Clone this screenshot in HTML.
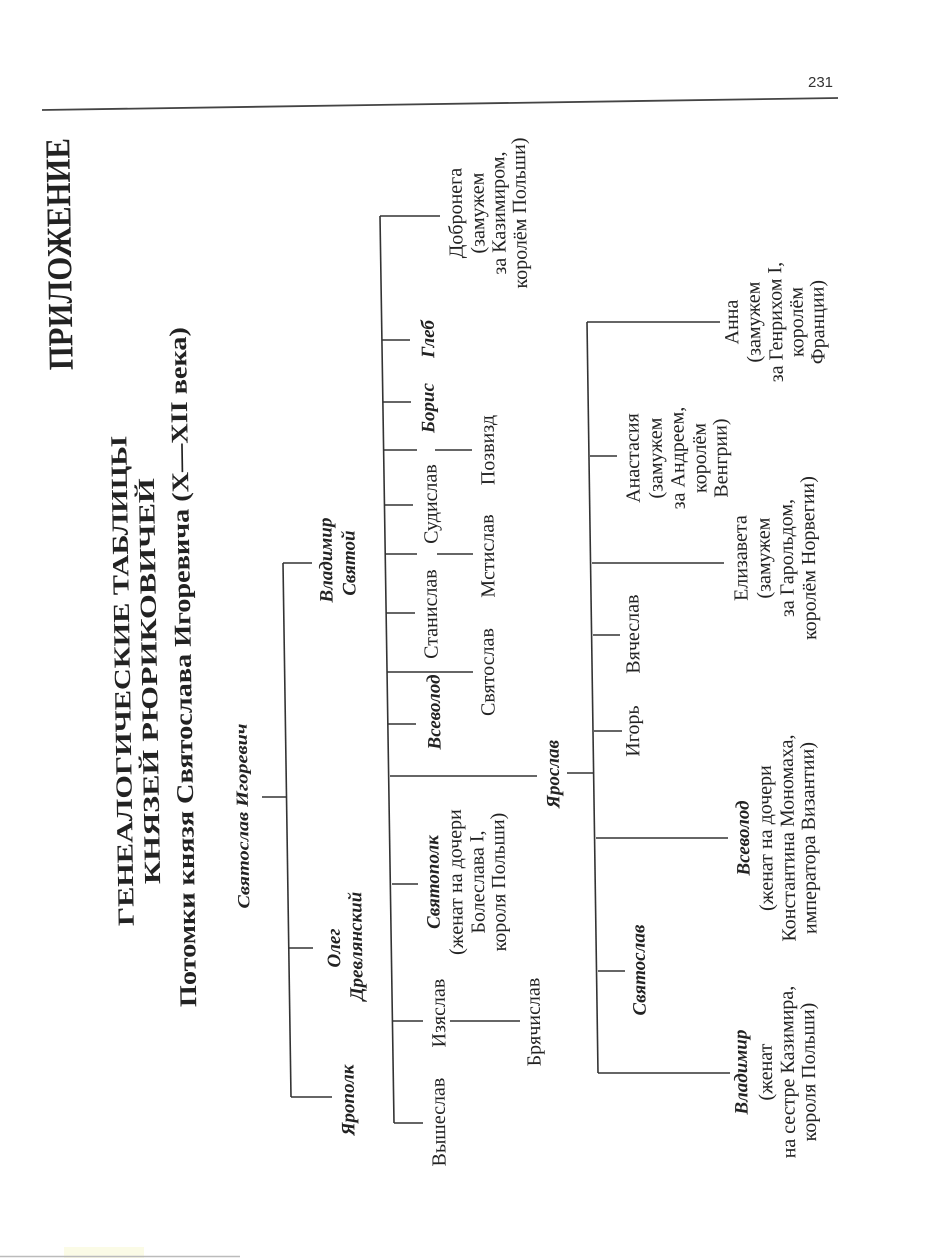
<!DOCTYPE html>
<html><head><meta charset="utf-8"><style>
html,body{margin:0;padding:0;background:#fff;}
svg{display:block;}
text{font-family:"Liberation Serif","Noto Serif CJK SC",serif;fill:#222;}
.r{font-size:20px;}
.b{font-size:19px;font-weight:bold;font-style:italic;}
</style></head><body>
<svg width="939" height="1258" viewBox="0 0 939 1258" xmlns="http://www.w3.org/2000/svg">
<rect width="939" height="1258" fill="#fff"/>
<rect x="64" y="1247" width="80" height="11" fill="#fbfbe6"/>
<line x1="0" y1="1256.5" x2="240" y2="1256.5" stroke="#bbb" stroke-width="1.5"/>
<line x1="42" y1="110" x2="838" y2="98" stroke="#444" stroke-width="1.8"/>
<text x="808" y="87" style="font-family:'Liberation Sans',sans-serif;font-size:15px;fill:#333">231</text>

<g stroke="#333" stroke-width="1.6" fill="none">
<line x1="262" y1="797" x2="287" y2="797"/>
<line x1="283" y1="563" x2="291" y2="1097"/>
<line x1="283" y1="563" x2="312" y2="563"/>
<line x1="289" y1="948" x2="313" y2="948"/>
<line x1="291" y1="1097" x2="332" y2="1097"/>
<line x1="380" y1="216" x2="394" y2="1123"/>
<line x1="380" y1="216" x2="440" y2="216"/>
<line x1="382" y1="340" x2="410" y2="340"/>
<line x1="383" y1="402" x2="411" y2="402"/>
<line x1="384" y1="450" x2="417" y2="450"/>
<line x1="435" y1="450" x2="472" y2="450"/>
<line x1="384" y1="505" x2="413" y2="505"/>
<line x1="385" y1="554" x2="417" y2="554"/>
<line x1="437" y1="554" x2="473" y2="554"/>
<line x1="386" y1="613" x2="415" y2="613"/>
<line x1="387" y1="672" x2="473" y2="672"/>
<line x1="388" y1="724" x2="416" y2="724"/>
<line x1="390" y1="776" x2="537" y2="776"/>
<line x1="392" y1="884" x2="418" y2="884"/>
<line x1="393" y1="1021" x2="423" y2="1021"/>
<line x1="450" y1="1021" x2="520" y2="1021"/>
<line x1="394" y1="1123" x2="423" y2="1123"/>
<line x1="567" y1="773" x2="593" y2="773"/>
<line x1="587" y1="322" x2="598" y2="1073"/>
<line x1="587" y1="322" x2="720" y2="322"/>
<line x1="590" y1="456" x2="617" y2="456"/>
<line x1="592" y1="563" x2="724" y2="563"/>
<line x1="593" y1="635" x2="620" y2="635"/>
<line x1="594" y1="731" x2="622" y2="731"/>
<line x1="596" y1="838" x2="728" y2="838"/>
<line x1="598" y1="971" x2="625" y2="971"/>
<line x1="598" y1="1073" x2="730" y2="1073"/>
</g>

<g text-anchor="middle">
<text transform="translate(71,254) rotate(-90.88)" style="font-size:35px;font-weight:bold" textLength="232" lengthAdjust="spacingAndGlyphs">ПРИЛОЖЕНИЕ</text>
<text transform="translate(130,681) rotate(-90.88)" style="font-size:23px;font-weight:bold" textLength="490" lengthAdjust="spacingAndGlyphs">ГЕНЕАЛОГИЧЕСКИЕ ТАБЛИЦЫ</text>
<text transform="translate(157,681) rotate(-90.88)" style="font-size:23px;font-weight:bold" textLength="406" lengthAdjust="spacingAndGlyphs">КНЯЗЕЙ РЮРИКОВИЧЕЙ</text>
<text transform="translate(191,667) rotate(-90.88)" style="font-size:24px;font-weight:bold" textLength="680" lengthAdjust="spacingAndGlyphs">Потомки князя Святослава Игоревича (X—XII века)</text>
<text transform="translate(248,816) rotate(-90.88)" style="font-size:17px;font-weight:bold;font-style:italic" textLength="185" lengthAdjust="spacingAndGlyphs">Святослав Игоревич</text>

<text class="b" transform="translate(354,1100) rotate(-90.88)">Ярополк</text>
<text class="b" transform="translate(340,948) rotate(-90.88)">Олег</text>
<text class="b" transform="translate(362,946) rotate(-90.88)">Древлянский</text>
<text class="b" transform="translate(332,560) rotate(-90.88)">Владимир</text>
<text class="b" transform="translate(355,563) rotate(-90.88)">Святой</text>

<text class="r" transform="translate(445,1122) rotate(-90.88)">Вышеслав</text>
<text class="r" transform="translate(445,1013) rotate(-90.88)">Изяслав</text>
<text class="r" transform="translate(540,1022) rotate(-90.88)">Брячислав</text>
<text class="b" transform="translate(439,882) rotate(-90.88)">Святополк</text>
<text class="r" transform="translate(462,882) rotate(-90.88)">(женат на дочери</text>
<text class="r" transform="translate(484,882) rotate(-90.88)">Болеслава I,</text>
<text class="r" transform="translate(505,882) rotate(-90.88)">короля Польши)</text>
<text class="b" transform="translate(440,712) rotate(-90.88)">Всеволод</text>
<text class="b" transform="translate(559,774) rotate(-90.88)">Ярослав</text>
<text class="r" transform="translate(437,614) rotate(-90.88)">Станислав</text>
<text class="r" transform="translate(494,672) rotate(-90.88)">Святослав</text>
<text class="r" transform="translate(437,504) rotate(-90.88)">Судислав</text>
<text class="r" transform="translate(494,556) rotate(-90.88)">Мстислав</text>
<text class="r" transform="translate(494,450) rotate(-90.88)">Позвизд</text>
<text class="b" transform="translate(434,408) rotate(-90.88)">Борис</text>
<text class="b" transform="translate(434,339) rotate(-90.88)">Глеб</text>
<text class="r" transform="translate(462,213) rotate(-90.88)">Добронега</text>
<text class="r" transform="translate(484,213) rotate(-90.88)">(замужем</text>
<text class="r" transform="translate(505,213) rotate(-90.88)">за Казимиром,</text>
<text class="r" transform="translate(526,213) rotate(-90.88)">королём Польши)</text>

<text class="b" transform="translate(747,1072) rotate(-90.88)">Владимир</text>
<text class="r" transform="translate(772,1072) rotate(-90.88)">(женат</text>
<text class="r" transform="translate(794,1072) rotate(-90.88)">на сестре Казимира,</text>
<text class="r" transform="translate(815,1072) rotate(-90.88)">короля Польши)</text>
<text class="b" transform="translate(645,970) rotate(-90.88)">Святослав</text>
<text class="b" transform="translate(749,838) rotate(-90.88)">Всеволод</text>
<text class="r" transform="translate(772,838) rotate(-90.88)">(женат на дочери</text>
<text class="r" transform="translate(794,838) rotate(-90.88)">Константина Мономаха,</text>
<text class="r" transform="translate(815,838) rotate(-90.88)">императора Византии)</text>
<text class="r" transform="translate(639,731) rotate(-90.88)">Игорь</text>
<text class="r" transform="translate(639,634) rotate(-90.88)">Вячеслав</text>
<text class="r" transform="translate(747,558) rotate(-90.88)">Елизавета</text>
<text class="r" transform="translate(770,558) rotate(-90.88)">(замужем</text>
<text class="r" transform="translate(793,558) rotate(-90.88)">за Гарольдом,</text>
<text class="r" transform="translate(815,558) rotate(-90.88)">королём Норвегии)</text>
<text class="r" transform="translate(639,458) rotate(-90.88)">Анастасия</text>
<text class="r" transform="translate(662,458) rotate(-90.88)">(замужем</text>
<text class="r" transform="translate(684,458) rotate(-90.88)">за Андреем,</text>
<text class="r" transform="translate(706,458) rotate(-90.88)">королём</text>
<text class="r" transform="translate(727,458) rotate(-90.88)">Венгрии)</text>
<text class="r" transform="translate(738,322) rotate(-90.88)">Анна</text>
<text class="r" transform="translate(760,322) rotate(-90.88)">(замужем</text>
<text class="r" transform="translate(782,322) rotate(-90.88)">за Генрихом I,</text>
<text class="r" transform="translate(803,322) rotate(-90.88)">королём</text>
<text class="r" transform="translate(824,322) rotate(-90.88)">Франции)</text>
</g>
</svg>
</body></html>
